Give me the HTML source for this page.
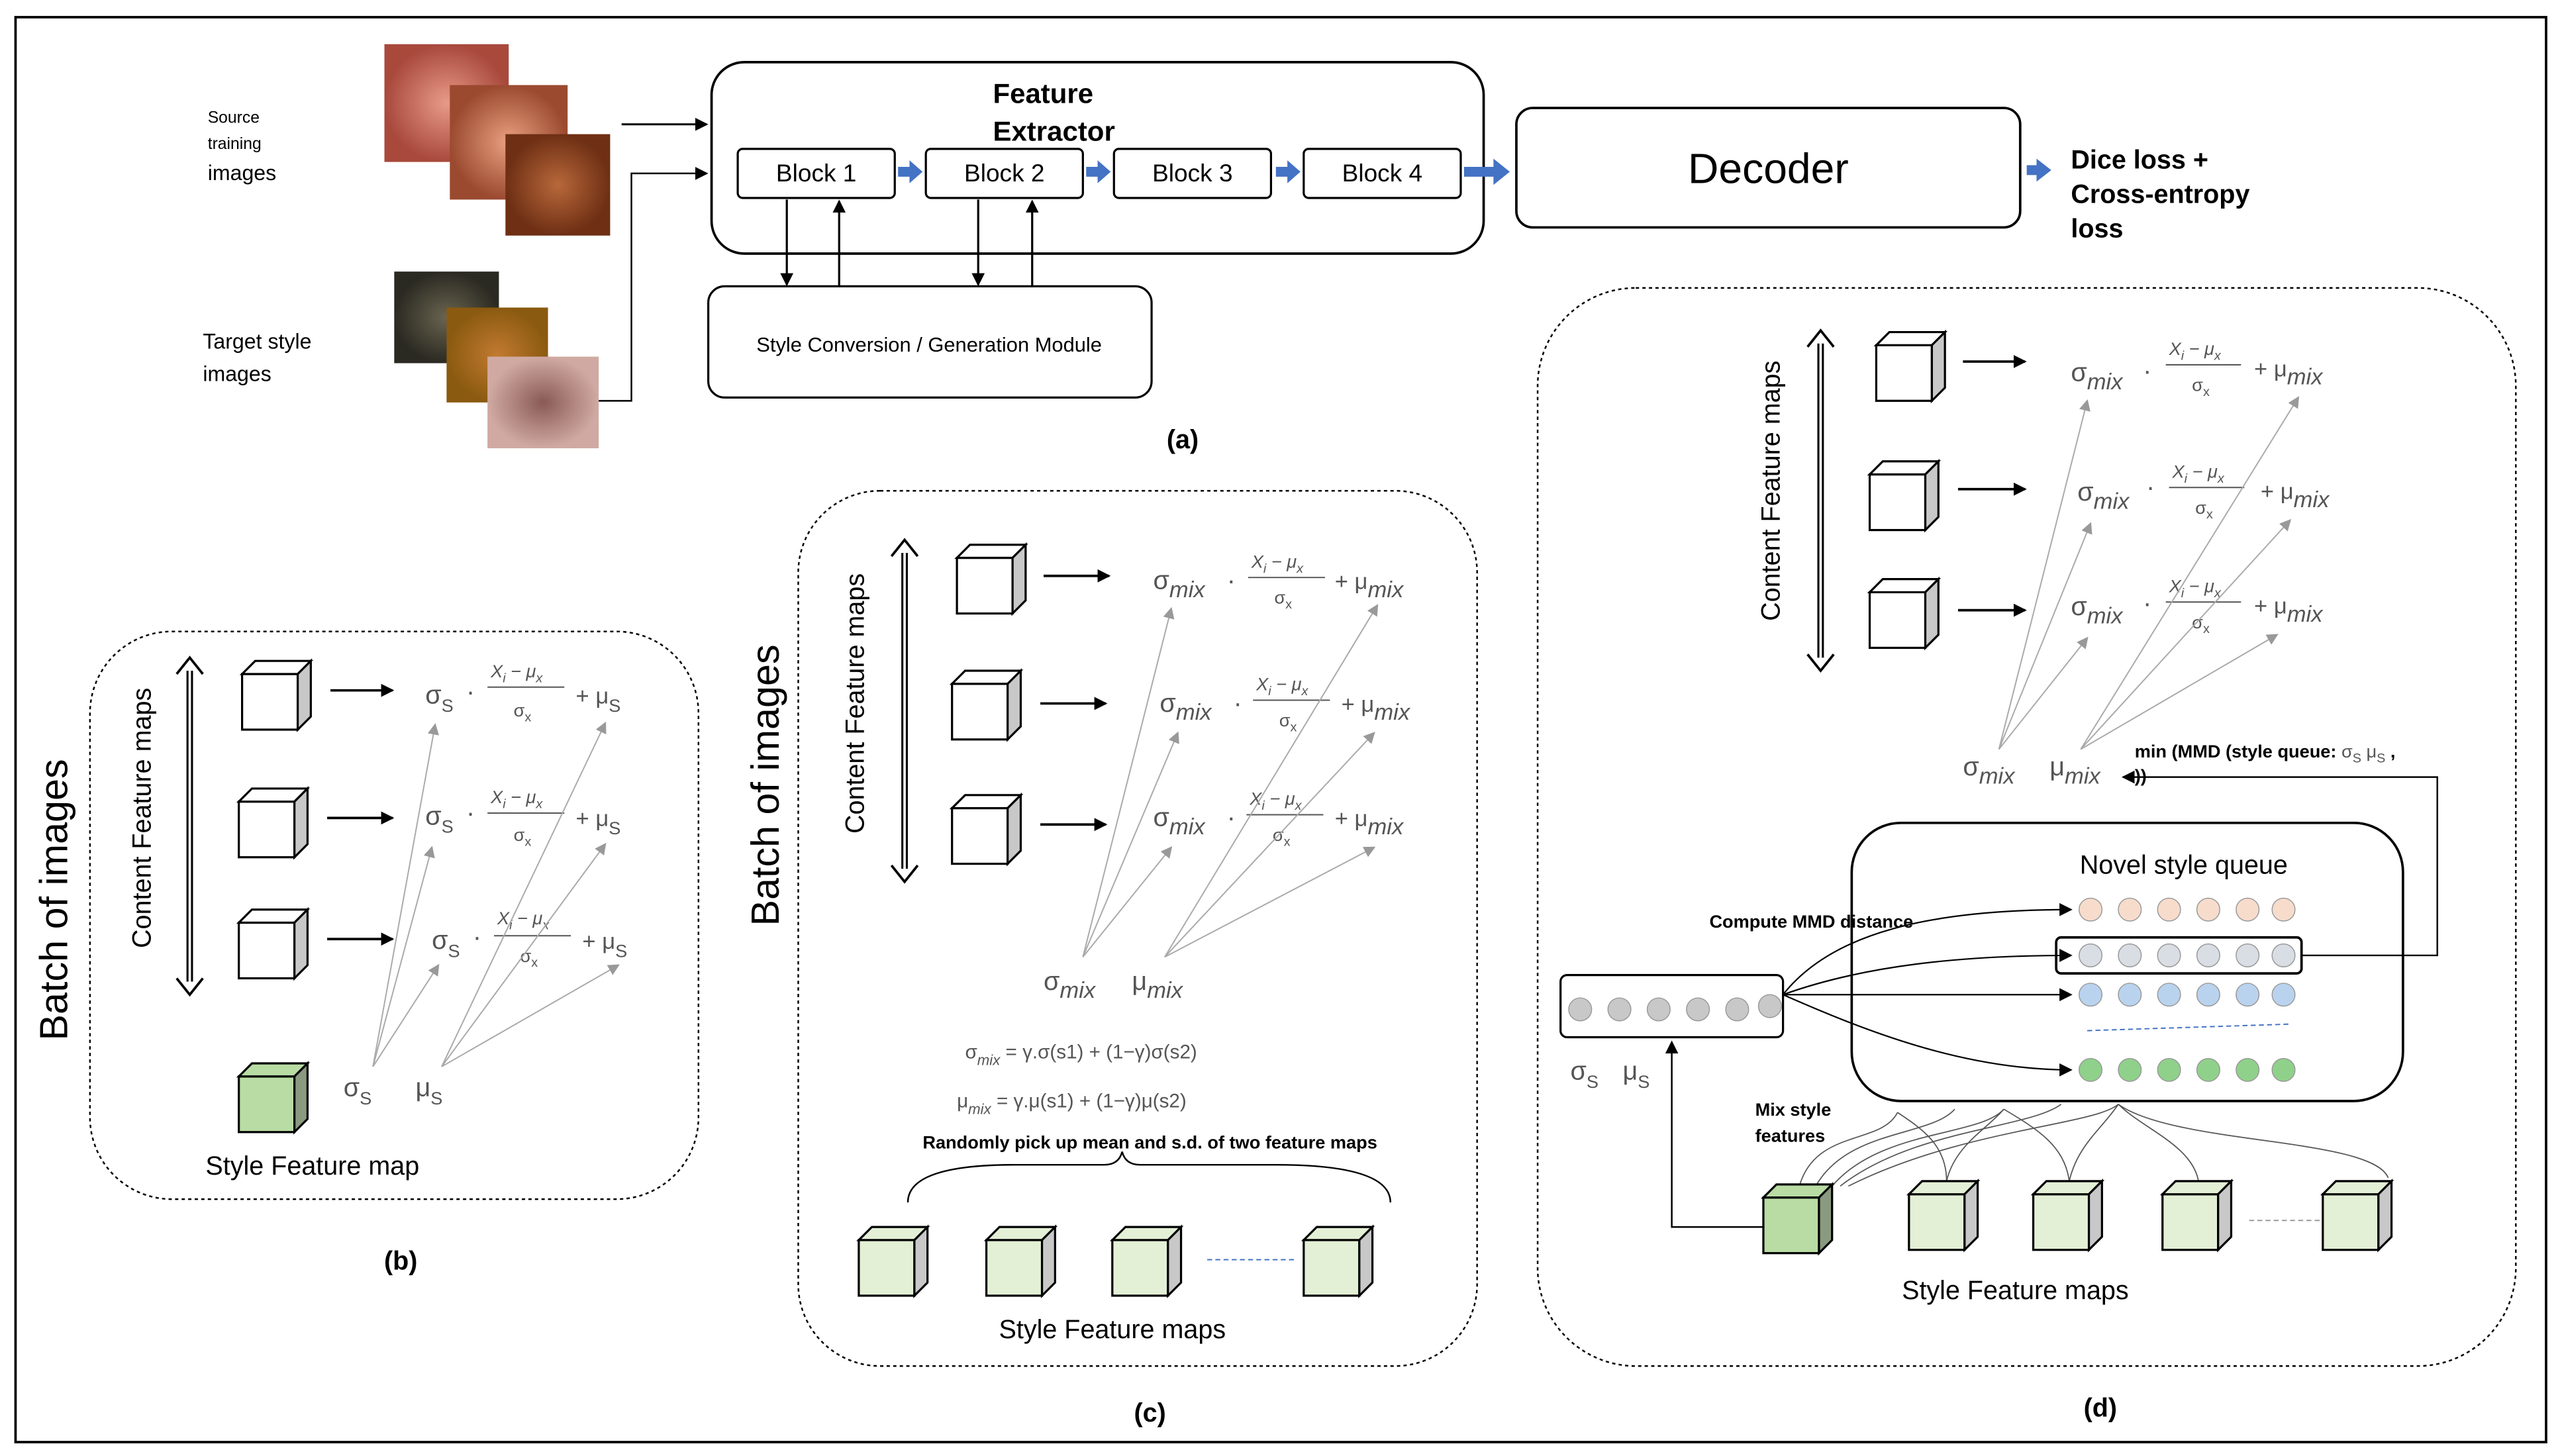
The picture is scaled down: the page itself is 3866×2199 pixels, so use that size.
<!DOCTYPE html>
<html><head><meta charset="utf-8"><style>
html,body{margin:0;padding:0;background:#fff;width:3866px;height:2199px;overflow:hidden}
svg{display:block}
text{font-family:"Liberation Sans",sans-serif}
.f{fill:#555;font-family:"Liberation Serif",serif}
.g{stroke:#aaa;stroke-width:0.8;fill:none}
</style></head><body>
<svg width="3866" height="2199" viewBox="0 0 1565 890" preserveAspectRatio="none" xmlns="http://www.w3.org/2000/svg">
<defs>
<marker id="ah" markerWidth="8" markerHeight="8" refX="7" refY="4" orient="auto" markerUnits="userSpaceOnUse"><path d="M0,0 L8,4 L0,8 z" fill="#000"/></marker>
<marker id="ag" markerWidth="7" markerHeight="7" refX="6" refY="3.5" orient="auto" markerUnits="userSpaceOnUse"><path d="M0,0 L7,3.5 L0,7 z" fill="#999"/></marker>
<g id="cube"><rect x="0" y="8" width="34" height="34" fill="#fff" stroke="#000" stroke-width="1.3"/><path d="M0,8 L8,0 L42,0 L34,8 z" fill="#fff" stroke="#000" stroke-width="1.3"/><path d="M34,8 L42,0 L42,34 L34,42 z" fill="#c8c8c8" stroke="#000" stroke-width="1.3"/></g>
<g id="gcube"><rect x="0" y="8" width="34" height="34" fill="#e3f0d6" stroke="#000" stroke-width="1.3"/><path d="M0,8 L8,0 L42,0 L34,8 z" fill="#e3f0d6" stroke="#000" stroke-width="1.3"/><path d="M34,8 L42,0 L42,34 L34,42 z" fill="#c8c8c8" stroke="#000" stroke-width="1.3"/></g>
<g id="dcube"><rect x="0" y="8" width="34" height="34" fill="#b8dca4" stroke="#000" stroke-width="1.3"/><path d="M0,8 L8,0 L42,0 L34,8 z" fill="#b8dca4" stroke="#000" stroke-width="1.3"/><path d="M34,8 L42,0 L42,34 L34,42 z" fill="#8a9a80" stroke="#000" stroke-width="1.3"/></g>
<radialGradient id="p1"><stop offset="0" stop-color="#e89a88"/><stop offset="1" stop-color="#a8493c"/></radialGradient>
<radialGradient id="p2"><stop offset="0" stop-color="#eaa080"/><stop offset="1" stop-color="#9b4a30"/></radialGradient>
<radialGradient id="p3"><stop offset="0" stop-color="#b8683a"/><stop offset="1" stop-color="#6e2f14"/></radialGradient>
<radialGradient id="t1"><stop offset="0" stop-color="#6a6450"/><stop offset="1" stop-color="#2b2a22"/></radialGradient>
<radialGradient id="t2"><stop offset="0" stop-color="#c27a30"/><stop offset="1" stop-color="#8a5a10"/></radialGradient>
<radialGradient id="t3"><stop offset="0" stop-color="#8a5a55"/><stop offset="1" stop-color="#d0aaa2"/></radialGradient>
</defs>
<rect x="9.5" y="10.5" width="1547" height="871" fill="none" stroke="#000" stroke-width="1.5"/>

<!-- (a) -->
<text x="127" y="75" font-size="10">Source</text><text x="127" y="91" font-size="10">training</text><text x="127" y="110" font-size="13">images</text>
<text x="124" y="213" font-size="13">Target style</text><text x="124" y="233" font-size="13">images</text>
<rect x="235" y="27" width="76" height="72" fill="url(#p1)"/>
<rect x="275" y="52" width="72" height="70" fill="url(#p2)"/>
<rect x="309" y="82" width="64" height="62" fill="url(#p3)"/>
<rect x="241" y="166" width="64" height="56" fill="url(#t1)"/>
<rect x="273" y="188" width="62" height="58" fill="url(#t2)"/>
<rect x="298" y="218" width="68" height="56" fill="url(#t3)"/>
<line x1="380" y1="76" x2="432" y2="76" stroke="#000" stroke-width="1.2" marker-end="url(#ah)"/>
<polyline points="366,245 386,245 386,106 432,106" fill="none" stroke="#000" stroke-width="1" marker-end="url(#ah)"/>
<rect x="435" y="38" width="472" height="117" rx="20" fill="none" stroke="#000" stroke-width="1.5"/>
<text x="607" y="63" font-size="17" font-weight="bold">Feature</text>
<text x="607" y="86" font-size="17" font-weight="bold">Extractor</text>
<g font-size="15" text-anchor="middle">
<rect x="451" y="91" width="96" height="30" rx="3" fill="#fff" stroke="#000" stroke-width="1.3"/><text x="499" y="111">Block 1</text>
<rect x="566" y="91" width="96" height="30" rx="3" fill="#fff" stroke="#000" stroke-width="1.3"/><text x="614" y="111">Block 2</text>
<rect x="681" y="91" width="96" height="30" rx="3" fill="#fff" stroke="#000" stroke-width="1.3"/><text x="729" y="111">Block 3</text>
<rect x="797" y="91" width="96" height="30" rx="3" fill="#fff" stroke="#000" stroke-width="1.3"/><text x="845" y="111">Block 4</text>
</g>
<g fill="#4472c4">
<path d="M549,102 h7 v-4 l8,7 l-8,7 v-4 h-7 z"/><path d="M664,102 h7 v-4 l8,7 l-8,7 v-4 h-7 z"/><path d="M780,102 h7 v-4 l8,7 l-8,7 v-4 h-7 z"/>
<path d="M895,102 h18 v-5 l10,8 l-10,8 v-5 h-18 z"/><path d="M1239,101 h6 v-4 l9,7 l-9,7 v-4 h-6 z"/>
</g>
<rect x="927" y="66" width="308" height="73" rx="10" fill="none" stroke="#000" stroke-width="1.5"/>
<text x="1081" y="112" font-size="26" text-anchor="middle">Decoder</text>
<g font-size="16" font-weight="bold"><text x="1266" y="103">Dice loss +</text><text x="1266" y="124">Cross-entropy</text><text x="1266" y="145">loss</text></g>
<rect x="433" y="175" width="271" height="68" rx="10" fill="none" stroke="#000" stroke-width="1.3"/>
<text x="568" y="215" font-size="12.5" text-anchor="middle">Style Conversion / Generation Module</text>
<g stroke="#000" stroke-width="1.3">
<line x1="481" y1="122" x2="481" y2="174" marker-end="url(#ah)"/><line x1="513" y1="175" x2="513" y2="123" marker-end="url(#ah)"/>
<line x1="598" y1="122" x2="598" y2="174" marker-end="url(#ah)"/><line x1="631" y1="175" x2="631" y2="123" marker-end="url(#ah)"/>
</g>
<text x="723" y="274" font-size="16" font-weight="bold" text-anchor="middle">(a)</text>

<!-- (b) -->
<rect x="55" y="386" width="372" height="347" rx="50" fill="none" stroke="#000" stroke-width="1" stroke-dasharray="2,2"/>
<text transform="translate(41,550) rotate(-90)" font-size="24" text-anchor="middle">Batch of images</text>
<text transform="translate(92,500) rotate(-90)" font-size="16" text-anchor="middle">Content Feature maps</text>
<line x1="116" y1="410" x2="116" y2="600" stroke="#000" stroke-width="4"/><line x1="116" y1="410" x2="116" y2="600" stroke="#fff" stroke-width="1.5"/>
<path d="M108,412 L116,402 L124,412 M108,598 L116,608 L124,598" fill="none" stroke="#000" stroke-width="1.5"/>
<use href="#cube" x="148" y="404"/><use href="#cube" x="146" y="482"/><use href="#cube" x="146" y="556"/>
<g stroke="#000" stroke-width="1.5"><line x1="202" y1="422" x2="240" y2="422" marker-end="url(#ah)"/><line x1="200" y1="500" x2="240" y2="500" marker-end="url(#ah)"/><line x1="200" y1="574" x2="240" y2="574" marker-end="url(#ah)"/></g>
<g class="f">
<text x="260" y="430" font-size="16">σ<tspan font-size="11" dy="5">S</tspan></text><text x="285" y="428">·</text><text x="300" y="414" font-size="11" font-style="italic">X<tspan font-size="8" dy="3">i</tspan><tspan dy="-3"> − μ</tspan><tspan font-size="8" dy="3">x</tspan></text><line x1="298" y1="420" x2="345" y2="420" stroke="#555" stroke-width="0.8"/><text x="314" y="438" font-size="11">σ<tspan font-size="8" dy="3">x</tspan></text><text x="352" y="430" font-size="14">+ μ<tspan font-size="11" dy="5">S</tspan></text>
<text x="260" y="504" font-size="16">σ<tspan font-size="11" dy="5">S</tspan></text><text x="285" y="502">·</text><text x="300" y="491" font-size="11" font-style="italic">X<tspan font-size="8" dy="3">i</tspan><tspan dy="-3"> − μ</tspan><tspan font-size="8" dy="3">x</tspan></text><line x1="298" y1="497" x2="345" y2="497" stroke="#555" stroke-width="0.8"/><text x="314" y="514" font-size="11">σ<tspan font-size="8" dy="3">x</tspan></text><text x="352" y="505" font-size="14">+ μ<tspan font-size="11" dy="5">S</tspan></text>
<text x="264" y="580" font-size="16">σ<tspan font-size="11" dy="5">S</tspan></text><text x="289" y="578">·</text><text x="304" y="565" font-size="11" font-style="italic">X<tspan font-size="8" dy="3">i</tspan><tspan dy="-3"> − μ</tspan><tspan font-size="8" dy="3">x</tspan></text><line x1="302" y1="572" x2="349" y2="572" stroke="#555" stroke-width="0.8"/><text x="318" y="588" font-size="11">σ<tspan font-size="8" dy="3">x</tspan></text><text x="356" y="580" font-size="14">+ μ<tspan font-size="11" dy="5">S</tspan></text>
<text x="210" y="670" font-size="16">σ<tspan font-size="11" dy="5">S</tspan></text><text x="254" y="670" font-size="16">μ<tspan font-size="11" dy="5">S</tspan></text>
</g>
<g class="g"><line x1="228" y1="652" x2="266" y2="443" marker-end="url(#ag)"/><line x1="228" y1="652" x2="264" y2="518" marker-end="url(#ag)"/><line x1="228" y1="652" x2="268" y2="590" marker-end="url(#ag)"/>
<line x1="270" y1="652" x2="370" y2="442" marker-end="url(#ag)"/><line x1="270" y1="652" x2="370" y2="516" marker-end="url(#ag)"/><line x1="270" y1="652" x2="378" y2="590" marker-end="url(#ag)"/></g>
<use href="#dcube" x="146" y="650"/>
<text x="191" y="718" font-size="16" text-anchor="middle">Style Feature map</text>
<text x="245" y="776" font-size="16" font-weight="bold" text-anchor="middle">(b)</text>

<!-- (c) -->
<rect x="488" y="300" width="415" height="535" rx="50" fill="none" stroke="#000" stroke-width="1" stroke-dasharray="2,2"/>
<text transform="translate(476,480) rotate(-90)" font-size="24" text-anchor="middle">Batch of images</text>
<text transform="translate(528,430) rotate(-90)" font-size="16" text-anchor="middle">Content Feature maps</text>
<line x1="553" y1="338" x2="553" y2="531" stroke="#000" stroke-width="4"/><line x1="553" y1="338" x2="553" y2="531" stroke="#fff" stroke-width="1.5"/>
<path d="M545,340 L553,330 L561,340 M545,529 L553,539 L561,529" fill="none" stroke="#000" stroke-width="1.5"/>
<use href="#cube" x="585" y="333"/><use href="#cube" x="582" y="410"/><use href="#cube" x="582" y="486"/>
<g stroke="#000" stroke-width="1.5"><line x1="638" y1="352" x2="678" y2="352" marker-end="url(#ah)"/><line x1="636" y1="430" x2="676" y2="430" marker-end="url(#ah)"/><line x1="636" y1="504" x2="676" y2="504" marker-end="url(#ah)"/></g>
<g class="f">
<text x="705" y="360" font-size="16">σ<tspan font-size="14" font-style="italic" dy="5">mix</tspan></text><text x="750" y="360">·</text><text x="765" y="347" font-size="11" font-style="italic">X<tspan font-size="8" dy="3">i</tspan><tspan dy="-3"> − μ</tspan><tspan font-size="8" dy="3">x</tspan></text><line x1="763" y1="353" x2="810" y2="353" stroke="#555" stroke-width="0.8"/><text x="779" y="369" font-size="11">σ<tspan font-size="8" dy="3">x</tspan></text><text x="816" y="360" font-size="14">+ μ<tspan font-size="14" font-style="italic" dy="5">mix</tspan></text>
<text x="709" y="435" font-size="16">σ<tspan font-size="14" font-style="italic" dy="5">mix</tspan></text><text x="754" y="435">·</text><text x="768" y="422" font-size="11" font-style="italic">X<tspan font-size="8" dy="3">i</tspan><tspan dy="-3"> − μ</tspan><tspan font-size="8" dy="3">x</tspan></text><line x1="766" y1="428" x2="813" y2="428" stroke="#555" stroke-width="0.8"/><text x="782" y="444" font-size="11">σ<tspan font-size="8" dy="3">x</tspan></text><text x="820" y="435" font-size="14">+ μ<tspan font-size="14" font-style="italic" dy="5">mix</tspan></text>
<text x="705" y="505" font-size="16">σ<tspan font-size="14" font-style="italic" dy="5">mix</tspan></text><text x="750" y="505">·</text><text x="764" y="492" font-size="11" font-style="italic">X<tspan font-size="8" dy="3">i</tspan><tspan dy="-3"> − μ</tspan><tspan font-size="8" dy="3">x</tspan></text><line x1="762" y1="498" x2="809" y2="498" stroke="#555" stroke-width="0.8"/><text x="778" y="514" font-size="11">σ<tspan font-size="8" dy="3">x</tspan></text><text x="816" y="505" font-size="14">+ μ<tspan font-size="14" font-style="italic" dy="5">mix</tspan></text>
<text x="638" y="605" font-size="16">σ<tspan font-size="14" font-style="italic" dy="5">mix</tspan></text><text x="692" y="605" font-size="16">μ<tspan font-size="14" font-style="italic" dy="5">mix</tspan></text>
<text x="590" y="647" font-size="12">σ<tspan font-size="9" font-style="italic" dy="4">mix</tspan><tspan dy="-4"> = γ.σ(s1) + (1−γ)σ(s2)</tspan></text>
<text x="585" y="677" font-size="12">μ<tspan font-size="9" font-style="italic" dy="4">mix</tspan><tspan dy="-4"> = γ.μ(s1) + (1−γ)μ(s2)</tspan></text>
</g>
<g class="g"><line x1="662" y1="585" x2="716" y2="372" marker-end="url(#ag)"/><line x1="662" y1="585" x2="720" y2="448" marker-end="url(#ag)"/><line x1="662" y1="585" x2="716" y2="518" marker-end="url(#ag)"/>
<line x1="712" y1="585" x2="842" y2="370" marker-end="url(#ag)"/><line x1="712" y1="585" x2="840" y2="448" marker-end="url(#ag)"/><line x1="712" y1="585" x2="840" y2="518" marker-end="url(#ag)"/></g>
<text x="703" y="702" font-size="11" font-weight="bold" text-anchor="middle">Randomly pick up mean and s.d. of two feature maps</text>
<path d="M555,735 Q555,712 620,712 L675,712 Q684,712 686,704 Q688,712 697,712 L780,712 Q850,712 850,735" fill="none" stroke="#000" stroke-width="1"/>
<use href="#gcube" x="525" y="750"/><use href="#gcube" x="603" y="750"/><use href="#gcube" x="680" y="750"/><use href="#gcube" x="797" y="750"/>
<line x1="738" y1="770" x2="793" y2="770" stroke="#4472c4" stroke-width="0.8" stroke-dasharray="3,2"/>
<text x="680" y="818" font-size="16" text-anchor="middle">Style Feature maps</text>
<text x="703" y="869" font-size="16" font-weight="bold" text-anchor="middle">(c)</text>

<!-- (d) -->
<rect x="940" y="176" width="598" height="659" rx="60" fill="none" stroke="#000" stroke-width="1" stroke-dasharray="2,2"/>
<text transform="translate(1088,300) rotate(-90)" font-size="16" text-anchor="middle">Content Feature maps</text>
<line x1="1113" y1="210" x2="1113" y2="402" stroke="#000" stroke-width="4"/><line x1="1113" y1="210" x2="1113" y2="402" stroke="#fff" stroke-width="1.5"/>
<path d="M1105,212 L1113,202 L1121,212 M1105,400 L1113,410 L1121,400" fill="none" stroke="#000" stroke-width="1.5"/>
<use href="#cube" x="1147" y="203"/><use href="#cube" x="1143" y="282"/><use href="#cube" x="1143" y="354"/>
<g stroke="#000" stroke-width="1.5"><line x1="1200" y1="221" x2="1238" y2="221" marker-end="url(#ah)"/><line x1="1197" y1="299" x2="1238" y2="299" marker-end="url(#ah)"/><line x1="1197" y1="373" x2="1238" y2="373" marker-end="url(#ah)"/></g>
<g class="f">
<text x="1266" y="233" font-size="16">σ<tspan font-size="14" font-style="italic" dy="5">mix</tspan></text><text x="1310" y="232">·</text><text x="1326" y="217" font-size="11" font-style="italic">X<tspan font-size="8" dy="3">i</tspan><tspan dy="-3"> − μ</tspan><tspan font-size="8" dy="3">x</tspan></text><line x1="1324" y1="223" x2="1370" y2="223" stroke="#555" stroke-width="0.8"/><text x="1340" y="239" font-size="11">σ<tspan font-size="8" dy="3">x</tspan></text><text x="1378" y="230" font-size="14">+ μ<tspan font-size="14" font-style="italic" dy="5">mix</tspan></text>
<text x="1270" y="306" font-size="16">σ<tspan font-size="14" font-style="italic" dy="5">mix</tspan></text><text x="1312" y="303">·</text><text x="1328" y="292" font-size="11" font-style="italic">X<tspan font-size="8" dy="3">i</tspan><tspan dy="-3"> − μ</tspan><tspan font-size="8" dy="3">x</tspan></text><line x1="1326" y1="298" x2="1372" y2="298" stroke="#555" stroke-width="0.8"/><text x="1342" y="314" font-size="11">σ<tspan font-size="8" dy="3">x</tspan></text><text x="1382" y="305" font-size="14">+ μ<tspan font-size="14" font-style="italic" dy="5">mix</tspan></text>
<text x="1266" y="376" font-size="16">σ<tspan font-size="14" font-style="italic" dy="5">mix</tspan></text><text x="1310" y="374">·</text><text x="1326" y="362" font-size="11" font-style="italic">X<tspan font-size="8" dy="3">i</tspan><tspan dy="-3"> − μ</tspan><tspan font-size="8" dy="3">x</tspan></text><line x1="1324" y1="368" x2="1370" y2="368" stroke="#555" stroke-width="0.8"/><text x="1340" y="384" font-size="11">σ<tspan font-size="8" dy="3">x</tspan></text><text x="1378" y="375" font-size="14">+ μ<tspan font-size="14" font-style="italic" dy="5">mix</tspan></text>
<text x="1200" y="474" font-size="16">σ<tspan font-size="14" font-style="italic" dy="5">mix</tspan></text><text x="1253" y="474" font-size="16">μ<tspan font-size="14" font-style="italic" dy="5">mix</tspan></text>
<text x="960" y="660" font-size="16">σ<tspan font-size="11" dy="5">S</tspan></text><text x="992" y="660" font-size="16">μ<tspan font-size="11" dy="5">S</tspan></text>
</g>
<g class="g"><line x1="1222" y1="458" x2="1276" y2="245" marker-end="url(#ag)"/><line x1="1222" y1="458" x2="1278" y2="320" marker-end="url(#ag)"/><line x1="1222" y1="458" x2="1276" y2="390" marker-end="url(#ag)"/>
<line x1="1272" y1="458" x2="1405" y2="243" marker-end="url(#ag)"/><line x1="1272" y1="458" x2="1400" y2="318" marker-end="url(#ag)"/><line x1="1272" y1="458" x2="1392" y2="388" marker-end="url(#ag)"/></g>
<text x="1305" y="463" font-size="11" font-weight="bold">min (MMD (style queue: <tspan font-weight="normal" fill="#555">σ</tspan><tspan font-size="8" dy="3" font-weight="normal" fill="#555">S</tspan><tspan dy="-3" font-weight="normal" fill="#555">  μ</tspan><tspan font-size="8" dy="3" font-weight="normal" fill="#555">S</tspan><tspan dy="-3"> ,</tspan></text>
<text x="1305" y="478" font-size="11" font-weight="bold">))</text>
<polyline points="1407,584 1490,584 1490,475 1298,475" fill="none" stroke="#000" stroke-width="1" marker-end="url(#ah)"/>
<rect x="1132" y="503" width="337" height="170" rx="30" fill="none" stroke="#000" stroke-width="1.5"/>
<text x="1335" y="534" font-size="16" text-anchor="middle">Novel style queue</text>
<rect x="1257" y="573" width="150" height="22" rx="3" fill="none" stroke="#000" stroke-width="1.5"/>
<g stroke="#999" stroke-width="0.6">
<g fill="#f7dccc"><circle cx="1278" cy="556" r="7"/><circle cx="1302" cy="556" r="7"/><circle cx="1326" cy="556" r="7"/><circle cx="1350" cy="556" r="7"/><circle cx="1374" cy="556" r="7"/><circle cx="1396" cy="556" r="7"/></g>
<g fill="#d9dde4"><circle cx="1278" cy="584" r="7"/><circle cx="1302" cy="584" r="7"/><circle cx="1326" cy="584" r="7"/><circle cx="1350" cy="584" r="7"/><circle cx="1374" cy="584" r="7"/><circle cx="1396" cy="584" r="7"/></g>
<g fill="#b9d3ee"><circle cx="1278" cy="608" r="7"/><circle cx="1302" cy="608" r="7"/><circle cx="1326" cy="608" r="7"/><circle cx="1350" cy="608" r="7"/><circle cx="1374" cy="608" r="7"/><circle cx="1396" cy="608" r="7"/></g>
<g fill="#8fd18a"><circle cx="1278" cy="654" r="7"/><circle cx="1302" cy="654" r="7"/><circle cx="1326" cy="654" r="7"/><circle cx="1350" cy="654" r="7"/><circle cx="1374" cy="654" r="7"/><circle cx="1396" cy="654" r="7"/></g>
</g>
<line x1="1276" y1="630" x2="1400" y2="626" stroke="#4472c4" stroke-width="0.8" stroke-dasharray="3,2"/>
<rect x="954" y="596" width="136" height="38" rx="4" fill="#fff" stroke="#000" stroke-width="1.3"/>
<g fill="#c8c8c8" stroke="#999" stroke-width="0.6"><circle cx="966" cy="617" r="7"/><circle cx="990" cy="617" r="7"/><circle cx="1014" cy="617" r="7"/><circle cx="1038" cy="617" r="7"/><circle cx="1062" cy="617" r="7"/><circle cx="1082" cy="615" r="7"/></g>
<g fill="none" stroke="#000" stroke-width="0.9">
<path d="M1090,608 C1120,570 1180,556 1266,556" marker-end="url(#ah)"/>
<path d="M1090,608 C1140,590 1200,584 1266,584" marker-end="url(#ah)"/>
<path d="M1090,608 L1266,608" marker-end="url(#ah)"/>
<path d="M1090,608 C1140,630 1200,654 1266,654" marker-end="url(#ah)"/>
</g>
<text x="1045" y="567" font-size="11" font-weight="bold">Compute MMD distance</text>
<text x="1073" y="682" font-size="11" font-weight="bold">Mix style</text><text x="1073" y="698" font-size="11" font-weight="bold">features</text>
<polyline points="1078,750 1022,750 1022,637" fill="none" stroke="#000" stroke-width="1" marker-end="url(#ah)"/>
<g fill="none" stroke="#555" stroke-width="0.7">
<path d="M1100,725 C1110,690 1150,700 1160,680"/><path d="M1110,725 C1130,690 1180,695 1195,678"/><path d="M1120,725 C1150,690 1210,695 1225,678"/><path d="M1125,725 C1170,690 1240,690 1260,675"/><path d="M1130,725 C1200,690 1280,688 1295,675"/>
<path d="M1190,722 C1190,700 1175,690 1160,680"/><path d="M1190,722 C1195,700 1215,690 1225,678"/><path d="M1265,722 C1262,700 1245,690 1225,678"/><path d="M1265,722 C1270,700 1285,690 1295,675"/><path d="M1344,722 C1340,700 1310,690 1295,675"/><path d="M1460,720 C1450,695 1330,700 1295,675"/>
</g>
<use href="#dcube" x="1078" y="724"/><use href="#gcube" x="1167" y="722"/><use href="#gcube" x="1243" y="722"/><use href="#gcube" x="1322" y="722"/><use href="#gcube" x="1420" y="722"/>
<line x1="1375" y1="746" x2="1418" y2="746" stroke="#999" stroke-width="0.8" stroke-dasharray="3,2"/>
<text x="1232" y="794" font-size="16" text-anchor="middle">Style Feature maps</text>
<text x="1284" y="866" font-size="16" font-weight="bold" text-anchor="middle">(d)</text>
</svg>
</body></html>
